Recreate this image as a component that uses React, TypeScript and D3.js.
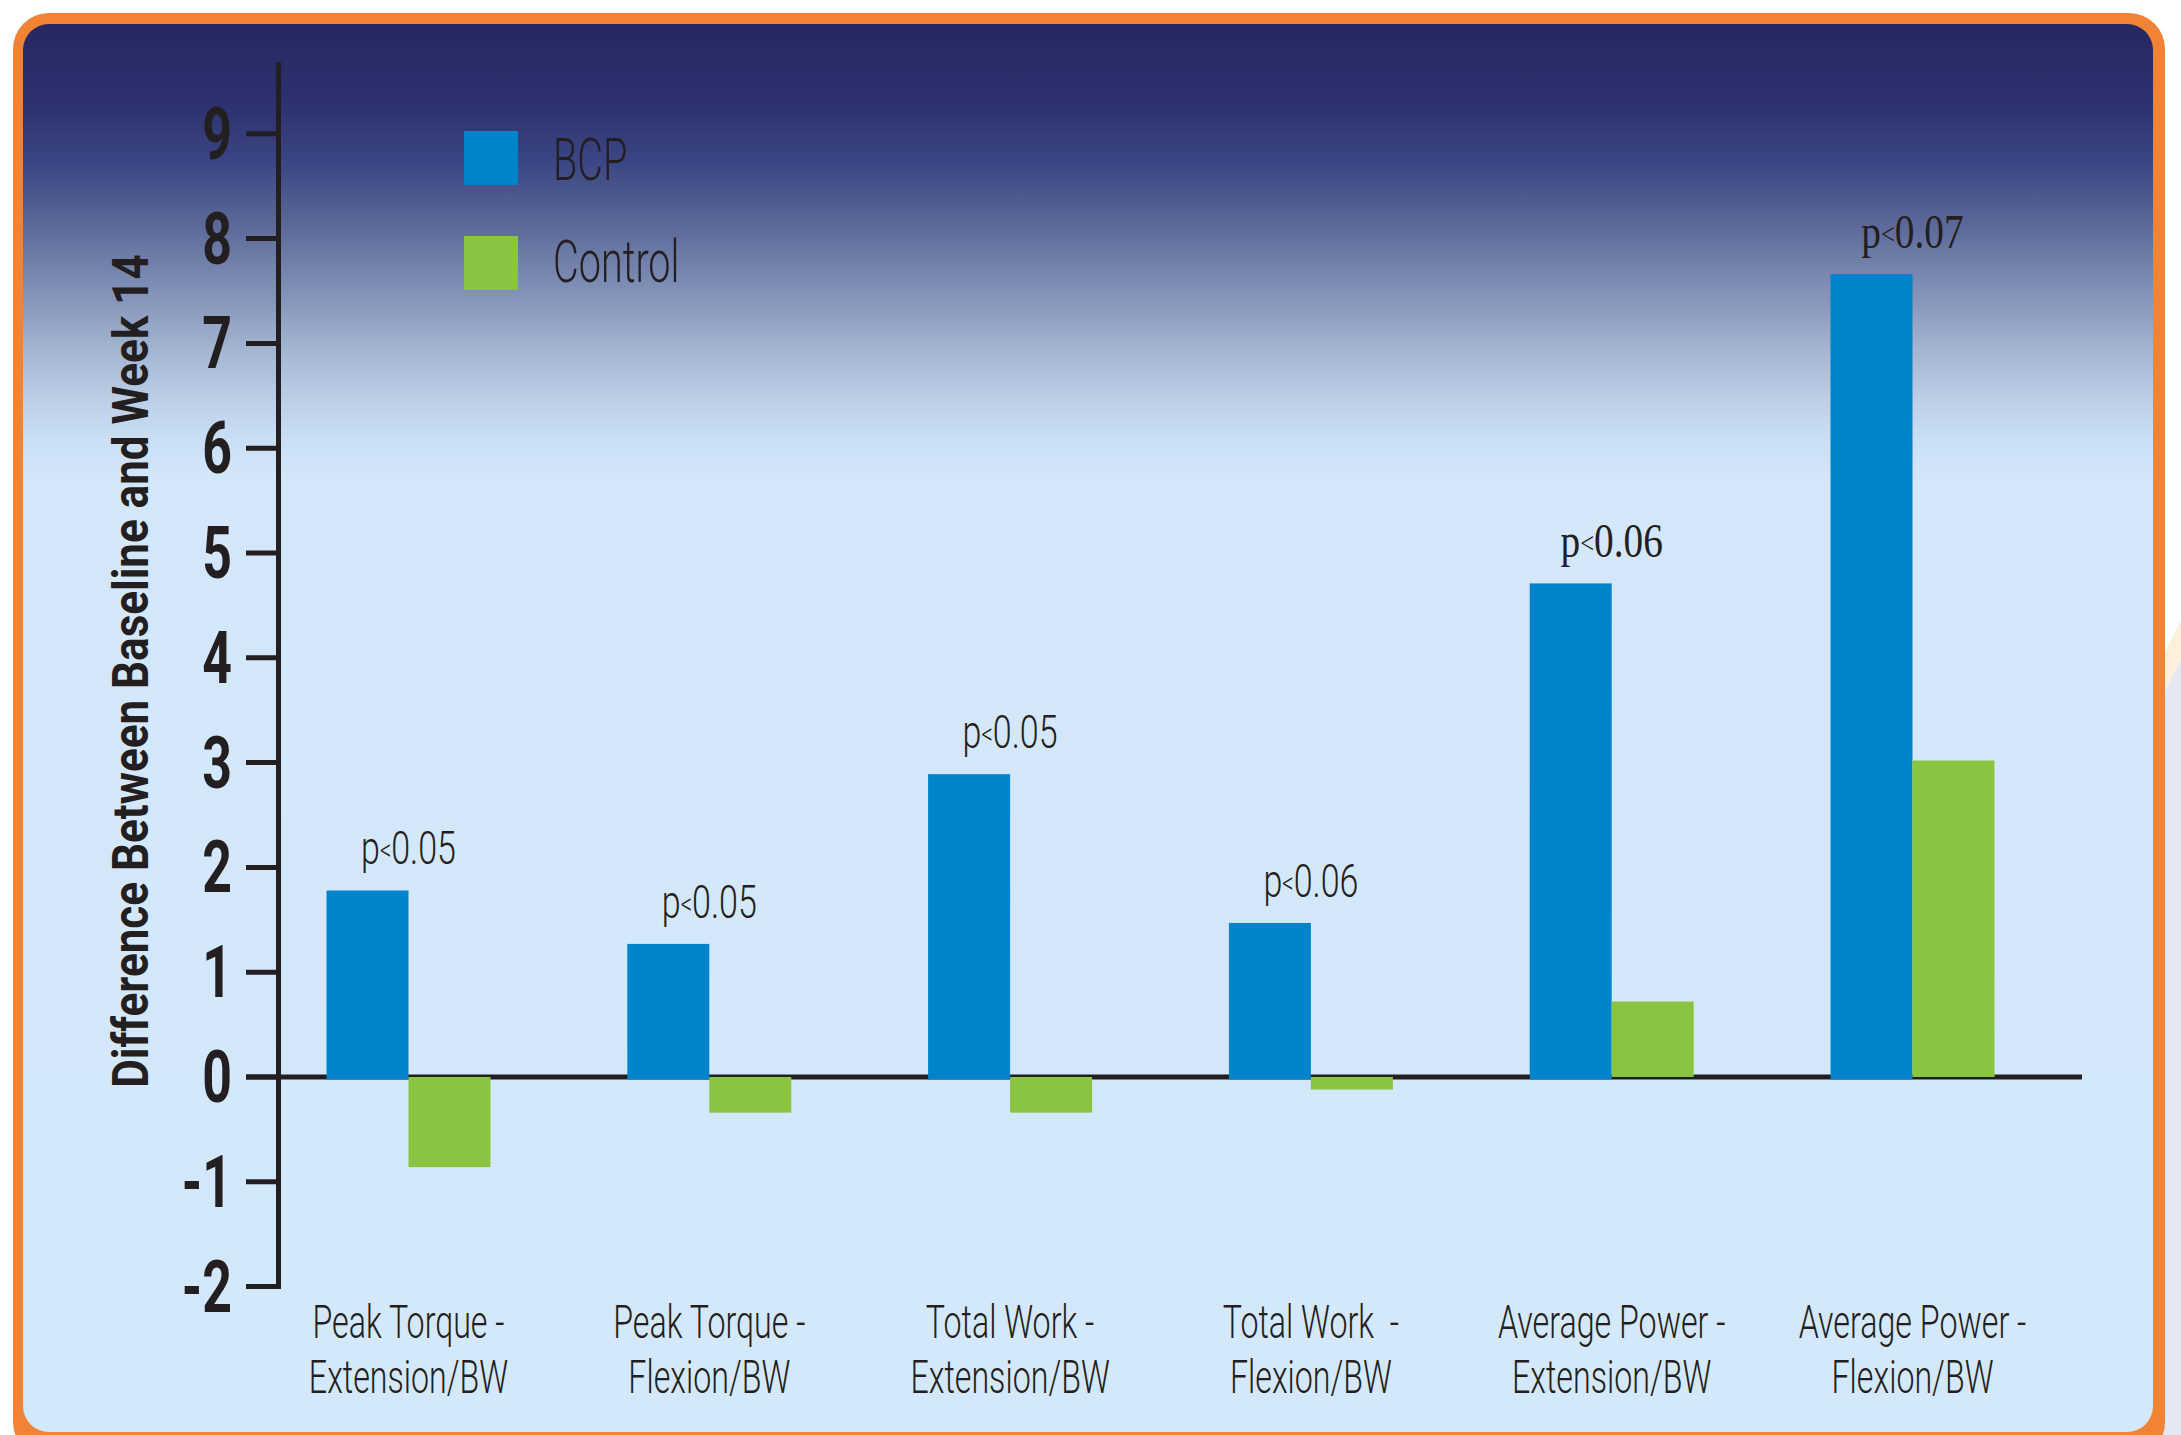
import React from 'react';
import * as d3 from 'd3';

// ---------- data ----------
const categories = [
  'Peak Torque - Extension/BW',
  'Peak Torque - Flexion/BW',
  'Total Work - Extension/BW',
  'Total Work  - Flexion/BW',
  'Average Power - Extension/BW',
  'Average Power - Flexion/BW',
];
const categoryLine1 = ['Peak Torque -', 'Peak Torque -', 'Total Work -', 'Total Work  -', 'Average Power -', 'Average Power -'];
const categoryLine2 = ['Extension/BW', 'Flexion/BW', 'Extension/BW', 'Flexion/BW', 'Extension/BW', 'Flexion/BW'];
const seriesNames = ['BCP', 'Control'];
const bcpValues = [1.78, 1.27, 2.89, 1.47, 4.71, 7.66];
const controlValues = [-0.86, -0.34, -0.34, -0.12, 0.72, 3.02];
const pValues = ['0.05', '0.05', '0.05', '0.06', '0.06', '0.07'];
const yTicks = [-2, -1, 0, 1, 2, 3, 4, 5, 6, 7, 8, 9];
const yTitle = 'Difference Between Baseline and Week 14';

// ---------- layout / style ----------
const W = 2181;
const H = 1435;
const BLUE = '#0084cc';
const GREEN = '#89c541';
const INK = '#231f20';
const ORANGE = '#f08336';
const CONDENSED = "Roboto, 'Open Sans', 'DejaVu Sans', sans-serif";
const SERIF = "'Liberation Serif', 'DejaVu Serif', serif";

const axisX = 278.5;
const axisTop = 62;
const tickLeft = 246;
const plotRight = 2082;

const y = d3.scaleLinear().domain([-2, 9]).range([1286.6, 133.8]);
const x0 = d3
  .scaleBand<string>()
  .domain(categories)
  .range([326.5, 1994.5])
  .paddingInner(0.4548)
  .paddingOuter(0);
const x1 = d3.scaleBand<string>().domain(seriesNames).range([0, x0.bandwidth()]).padding(0);
const color = d3.scaleOrdinal<string, string>().domain(seriesNames).range([BLUE, GREEN]);

const panelTop = 24;
const panelH = 1408;
const bgStops = [
  { y: 24, c: '#262760' },
  { y: 110, c: '#2d3370' },
  { y: 165, c: '#3d4785' },
  { y: 200, c: '#4f5a8e' },
  { y: 250, c: '#6a78a4' },
  { y: 300, c: '#8696bb' },
  { y: 350, c: '#a3b5d1' },
  { y: 400, c: '#bccfe7' },
  { y: 440, c: '#cadef4' },
  { y: 480, c: '#d4e7fa' },
  { y: 1432, c: '#d4e8fb' },
];

function CText(props: {
  x: number;
  y: number;
  sx: number;
  anchor?: string;
  size: number;
  weight?: number | string;
  family?: string;
  rotate?: number;
  children: React.ReactNode;
}) {
  const { x, y: yy, sx, anchor = 'start', size, weight = 400, family = CONDENSED, rotate = 0, children } = props;
  return (
    <text
      transform={`translate(${x},${yy}) rotate(${rotate}) scale(${sx},1)`}
      textAnchor={anchor}
      fontSize={size}
      fontWeight={weight}
      fontFamily={family}
      fill={INK}
      style={{ whiteSpace: 'pre' }}
    >
      {children}
    </text>
  );
}

export default function App() {
  const rows = categories.map((c, i) => ({
    cat: c,
    values: [
      { s: 'BCP', v: bcpValues[i] },
      { s: 'Control', v: controlValues[i] },
    ],
  }));
  const y0 = y(0);

  return (
    <svg
      width={W}
      height={H}
      viewBox={`0 0 ${W} ${H}`}
      style={{ position: 'absolute', left: 0, top: 0, display: 'block' }}
    >
      <defs>
        <linearGradient id="bg" gradientUnits="userSpaceOnUse" x1={0} y1={panelTop} x2={0} y2={panelTop + panelH}>
          {bgStops.map((s, i) => (
            <stop key={i} offset={(s.y - panelTop) / panelH} stopColor={s.c} />
          ))}
        </linearGradient>
      </defs>
      <rect x={0} y={0} width={W} height={H} fill="#ffffff" />
      {/* decorative shapes beyond frame */}
      <polygon points={`2160,662 2181,620 2181,660 2160,700`} fill="#fcefdc" />
      <polygon points={`2160,700 2181,660 2181,${H} 2160,${H}`} fill="#e5e7f4" />
      {/* frame */}
      <rect x={13} y={13} width={2152} height={1445} rx={36} fill={ORANGE} />
      <rect x={23} y={panelTop} width={2130} height={panelH} rx={26} fill="url(#bg)" />

      {/* legend */}
      {seriesNames.map((s, i) => (
        <g key={s}>
          <rect x={464} y={131 + i * 105} width={54} height={54} fill={color(s)} />
          <CText x={553} y={180 + i * 102} sx={0.66} size={60} weight={300}>
            {s}
          </CText>
        </g>
      ))}

      {/* zero line */}
      <line x1={tickLeft} x2={plotRight} y1={y0} y2={y0} stroke={INK} strokeWidth={5} />

      {/* bars */}
      {rows.map((r) => (
        <g key={r.cat} transform={`translate(${x0(r.cat)},0)`}>
          {r.values.map((d) => {
            const top = y(Math.max(0, d.v));
            const bottom = y(Math.min(0, d.v)) + (d.v > 0 && d.s === 'BCP' ? 2.5 : 0);
            return (
              <rect key={d.s} x={x1(d.s)} y={top} width={x1.bandwidth()} height={bottom - top} fill={color(d.s)} />
            );
          })}
        </g>
      ))}

      {/* p labels */}
      {rows.map((r, i) => {
        const cx = (x0(r.cat) as number) + x0.bandwidth() / 2;
        const by = y(bcpValues[i]) - 26;
        const serif = i >= 4;
        return (
          <CText
            key={r.cat}
            x={cx}
            y={by}
            sx={serif ? 0.82 : 0.74}
            anchor="middle"
            size={serif ? 48 : 46}
            weight={serif ? 400 : 300}
            family={serif ? SERIF : CONDENSED}
          >
            p<tspan fontSize={30} dy={-4}>{'<'}</tspan>
            <tspan dy={4}>{pValues[i]}</tspan>
          </CText>
        );
      })}

      {/* y axis */}
      <line x1={axisX} x2={axisX} y1={axisTop} y2={y(-2) + 2.5} stroke={INK} strokeWidth={5} />
      {yTicks.map((t) => (
        <g key={t}>
          <line x1={tickLeft} x2={axisX} y1={y(t)} y2={y(t)} stroke={INK} strokeWidth={5} />
          <CText x={232} y={y(t) + 25} sx={0.72} anchor="end" size={72} weight={700}>
            {t < 0 ? `-${Math.abs(t)}` : String(t)}
          </CText>
        </g>
      ))}

      {/* y title */}
      <CText x={148} y={671} sx={0.88} anchor="middle" size={50} weight={700} rotate={-90}>
        {yTitle}
      </CText>

      {/* category labels */}
      {categories.map((c, i) => {
        const cx = (x0(c) as number) + x0.bandwidth() / 2;
        return (
          <g key={c}>
            <CText x={cx} y={1338} sx={0.7} anchor="middle" size={46} weight={300}>
              {categoryLine1[i]}
            </CText>
            <CText x={cx} y={1393} sx={0.7} anchor="middle" size={46} weight={300}>
              {categoryLine2[i]}
            </CText>
          </g>
        );
      })}
    </svg>
  );
}
